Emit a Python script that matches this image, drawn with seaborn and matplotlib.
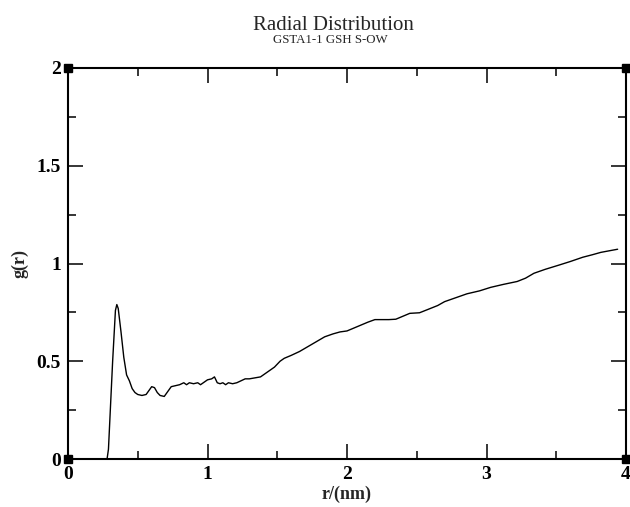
import matplotlib
matplotlib.use("Agg")
import matplotlib.pyplot as plt
import seaborn as sns
import pandas as pd

r = [0.0, 0.28, 0.29, 0.30, 0.32, 0.34, 0.35, 0.36, 0.38, 0.40, 0.42, 0.44, 0.46, 0.48, 0.50,
     0.53, 0.56, 0.58, 0.60, 0.62, 0.64, 0.66, 0.69, 0.71, 0.74, 0.77, 0.80, 0.83, 0.85, 0.87,
     0.90, 0.93, 0.95, 0.98, 1.00, 1.03, 1.05, 1.07, 1.09, 1.11, 1.13, 1.15, 1.18, 1.21, 1.24,
     1.27, 1.30, 1.34, 1.38, 1.42, 1.45, 1.48, 1.52, 1.55, 1.60, 1.66, 1.72, 1.78, 1.84, 1.90,
     1.95, 2.00, 2.05, 2.10, 2.15, 2.20, 2.25, 2.30, 2.35, 2.40, 2.45, 2.52, 2.58, 2.65, 2.70,
     2.78, 2.86, 2.95, 3.03, 3.12, 3.22, 3.28, 3.34, 3.42, 3.52, 3.60, 3.69, 3.76, 3.82, 3.88,
     3.94]
g = [0.0, 0.0, 0.05, 0.20, 0.50, 0.76, 0.79, 0.77, 0.65, 0.52, 0.43, 0.40, 0.36, 0.34, 0.33,
     0.325, 0.33, 0.35, 0.37, 0.365, 0.34, 0.325, 0.32, 0.34, 0.37, 0.375, 0.38, 0.39, 0.38, 0.39,
     0.385, 0.39, 0.38, 0.395, 0.405, 0.41, 0.42, 0.39, 0.385, 0.39, 0.38, 0.39, 0.385, 0.39, 0.40,
     0.41, 0.41, 0.415, 0.42, 0.44, 0.455, 0.47, 0.50, 0.515, 0.53, 0.55, 0.575, 0.60, 0.625, 0.64,
     0.65, 0.655, 0.67, 0.685, 0.70, 0.713, 0.713, 0.713, 0.715, 0.73, 0.745, 0.748, 0.765, 0.785, 0.805,
     0.825, 0.845, 0.86, 0.878, 0.893, 0.908, 0.925, 0.95, 0.97, 0.992, 1.01, 1.032, 1.045, 1.057, 1.065,
     1.073]

title = "Radial Distribution"
subtitle = "GSTA1-1 GSH S-OW"
xlabel = "r/(nm)"
ylabel = "g(r)"
xticks = [0, 1, 2, 3, 4]
yticks = [0, 0.5, 1, 1.5, 2]
yticklabels = ["0", "0.5", "1", "1.5", "2"]

sns.set_style("ticks")
plt.rcParams["font.family"] = ["Liberation Serif", "DejaVu Serif"]

fig = plt.figure(figsize=(6.3, 5.07), dpi=100)
ax = fig.add_axes([68/630, 48/507, 558/630, 391/507])

df = pd.DataFrame({"r": r, "g": g})
sns.lineplot(data=df, x="r", y="g", ax=ax, color="black", linewidth=1.0,
             estimator=None, sort=False)

ax.set_xlim(0, 4)
ax.set_ylim(0, 2)
ax.set_xticks(xticks)
ax.set_xticklabels([str(t) for t in xticks])
ax.set_yticks(yticks)
ax.set_yticklabels(yticklabels)
ax.set_xticks([0.5, 1.5, 2.5, 3.5], minor=True)
ax.set_yticks([0.25, 0.75, 1.25, 1.75], minor=True)
ax.tick_params(which="both", direction="in", top=True, right=True, width=1.1, colors="black")
ax.tick_params(which="major", length=11, labelsize=14, pad=5)
ax.tick_params(which="minor", length=6)
for lab in ax.get_xticklabels() + ax.get_yticklabels():
    lab.set_fontweight("bold")
for s in ax.spines.values():
    s.set_linewidth(1.5)
    s.set_color("black")
    s.set_visible(True)

ax.set_xlabel(xlabel, fontsize=13, fontweight="bold", labelpad=2)
ax.set_ylabel(ylabel, fontsize=13, fontweight="bold", labelpad=6)

ax.plot([0, 4, 0, 4], [0, 0, 2, 2], linestyle="none", marker="s", markersize=6,
        color="black", clip_on=False)

fig.text(333/630, 1 - 30/507, title, ha="center", va="baseline", fontsize=15)
fig.text(330/630, 1 - 43/507, subtitle, ha="center", va="baseline", fontsize=9.3)

fig.savefig("out.png", dpi=100)
